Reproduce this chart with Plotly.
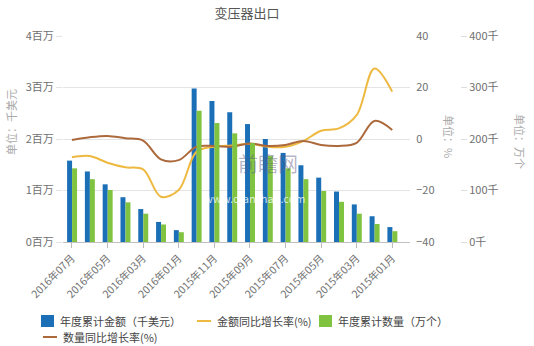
import plotly.graph_objects as go

# ---- data ----
categories = ["2016年07月", "2016年06月", "2016年05月", "2016年04月", "2016年03月",
              "2016年02月", "2016年01月", "2015年12月", "2015年11月", "2015年10月",
              "2015年09月", "2015年08月", "2015年07月", "2015年06月", "2015年05月",
              "2015年04月", "2015年03月", "2015年02月", "2015年01月"]
amount_k_usd = [1580000, 1370000, 1120000, 870000, 640000, 390000, 230000, 2980000,
                2740000, 2520000, 2290000, 2000000, 1730000, 1490000, 1250000,
                980000, 730000, 500000, 290000]
amount_growth = [-7.1, -6.6, -9.2, -11.0, -11.8, -22.4, -19.8, -5.0, -3.0, -2.5,
                 -1.8, -3.0, -3.0, -0.8, 3.2, 4.1, 9.3, 27.4, 18.4]
quantity_10k = [143000, 122000, 101000, 77000, 55000, 34000, 19000, 255000, 231000,
                211000, 192000, 167000, 143000, 122000, 99000, 78000, 55000, 35000, 21000]
quantity_growth = [-0.4, 0.7, 1.2, 0.3, -0.6, -7.9, -8.2, -3.0, -2.7, -3.0, -1.7,
                   -2.7, -2.3, -0.8, -2.3, -2.7, -1.5, 7.0, 3.5]

series_names = ["年度累计金额（千美元）", "金额同比增长率(%)", "年度累计数量（万个）", "数量同比增长率(%)"]
series_colors = ["#1b6fb7", "#eeb941", "#80c340", "#ac6a3c"]

left_ticks = [0, 1000000, 2000000, 3000000, 4000000]
left_ticktext = ["0百万", "1百万", "2百万", "3百万", "4百万"]
pct_ticks = [-40, -20, 0, 20, 40]
qty_ticks = [0, 100000, 200000, 300000, 400000]
qty_ticktext = ["0千", "100千", "200千", "300千", "400千"]

FONT = "Noto Sans CJK SC"
W, H = 534, 346
ML, MR, MT, MB = 63, 20, 36, 104
PW = W - ML - MR
PH = H - MT - MB


def px(x):
    return (x - ML) / PW


def py(y):
    return (MT + PH - y) / PH


x_end = px(410)
y3_pos = px(460)

fig = go.Figure()
fig.add_trace(go.Bar(x=categories, y=amount_k_usd, name=series_names[0],
                     marker=dict(color=series_colors[0], line=dict(width=0)),
                     width=0.28, offset=-0.27, yaxis="y"))
fig.add_trace(go.Scatter(x=categories, y=amount_growth, name=series_names[1],
                         mode="lines", line=dict(color=series_colors[1], width=2, shape="spline"),
                         yaxis="y2"))
fig.add_trace(go.Bar(x=categories, y=quantity_10k, name=series_names[2],
                     marker=dict(color=series_colors[2], line=dict(width=0)),
                     width=0.28, offset=0.01, yaxis="y3"))
fig.add_trace(go.Scatter(x=categories, y=quantity_growth, name=series_names[3],
                         mode="lines", line=dict(color=series_colors[3], width=2, shape="spline"),
                         yaxis="y2"))

# ---- legend drawn as layout items (bottom of figure) ----
legend_items = [  # (kind, symbol x0, symbol x1, text x, row y)
    ("rect", 41, 54, 58, 321),
    ("line", 197, 211, 215, 321),
    ("rect", 319, 332, 336, 321),
    ("line", 43, 57, 61, 337),
]
shapes = []
legend_ann = []
for (kind, x0, x1, tx, ry), name, color in zip(legend_items, series_names, series_colors):
    if kind == "rect":
        shapes.append(dict(type="rect", xref="paper", yref="paper",
                           x0=px(x0), x1=px(x1), y0=py(ry + 6), y1=py(ry - 6),
                           fillcolor=color, line=dict(width=0)))
    else:
        shapes.append(dict(type="line", xref="paper", yref="paper",
                           x0=px(x0), x1=px(x1), y0=py(ry), y1=py(ry),
                           line=dict(color=color, width=2)))
    legend_ann.append(dict(text=name, x=px(tx), y=py(ry), xref="paper", yref="paper",
                           xanchor="left", yanchor="middle", showarrow=False,
                           font=dict(family=FONT, size=11, color="#444444")))

tickfont = dict(family=FONT, size=11, color="#707070")
title_font = dict(family=FONT, size=11, color="#aaaaaa")
fig.update_layout(
    width=W, height=H, autosize=False,
    margin=dict(l=ML, r=MR, t=MT, b=MB),
    paper_bgcolor="white", plot_bgcolor="white",
    font=dict(family=FONT, size=11, color="#555555"),
    barmode="overlay",
    showlegend=False,
    title=dict(text="变压器出口", x=247 / W, xref="container", xanchor="center",
               y=1 - 13 / H, yref="container", yanchor="middle",
               font=dict(family=FONT, size=13, color="#555555")),
    xaxis=dict(type="category", categoryorder="array", categoryarray=categories,
               domain=[0, x_end], range=[-0.5, 19.0],
               tickmode="array", tickvals=categories[::2], ticktext=categories[::2],
               tickangle=-45, tickfont=dict(family=FONT, size=10.5, color="#707070"),
               ticks="outside", ticklen=5, tickcolor="#bbbbbb",
               showline=True, linecolor="#c0c0c0", linewidth=1, showgrid=False),
    yaxis=dict(range=[0, 4000000], tickmode="array", tickvals=left_ticks,
               ticktext=left_ticktext, tickfont=tickfont,
               showgrid=True, gridcolor="#e4e4e4", gridwidth=1, zeroline=False,
               ticks="outside", ticklen=6, tickcolor="#e4e4e4"),
    yaxis2=dict(range=[-40, 40], tickmode="array", tickvals=pct_ticks,
                overlaying="y", side="right", anchor="free", position=x_end,
                showgrid=False, zeroline=False, tickfont=tickfont,
                ticks="outside", ticklen=3, tickcolor="rgba(0,0,0,0)"),
    yaxis3=dict(range=[0, 400000], tickmode="array", tickvals=qty_ticks,
                ticktext=qty_ticktext, overlaying="y", side="right", anchor="free",
                position=y3_pos, showgrid=False, zeroline=False, tickfont=tickfont,
                ticks="outside", ticklen=6, tickcolor="#dddddd"),
    shapes=shapes,
    annotations=[
        dict(text="单位：千美元", x=px(11), y=py(122), xref="paper", yref="paper",
             xanchor="center", yanchor="middle", textangle=-90, showarrow=False,
             font=title_font),
        dict(text="单位：%", x=px(449), y=py(136), xref="paper", yref="paper",
             xanchor="center", yanchor="middle", textangle=90, showarrow=False,
             font=title_font),
        dict(text="单位：万个", x=px(520), y=py(141), xref="paper", yref="paper",
             xanchor="center", yanchor="middle", textangle=90, showarrow=False,
             font=title_font),
        dict(text="前瞻网", x=px(268), y=py(163), xref="paper", yref="paper",
             xanchor="center", yanchor="middle", showarrow=False,
             font=dict(family=FONT, size=20, color="rgba(90,90,130,0.45)")),
        dict(text="www.qianzhan.com", x=px(255), y=py(198), xref="paper", yref="paper",
             xanchor="center", yanchor="middle", showarrow=False,
             font=dict(family=FONT, size=11, color="rgba(255,255,255,0.75)")),
    ] + legend_ann,
)

fig.write_html("out.html")
